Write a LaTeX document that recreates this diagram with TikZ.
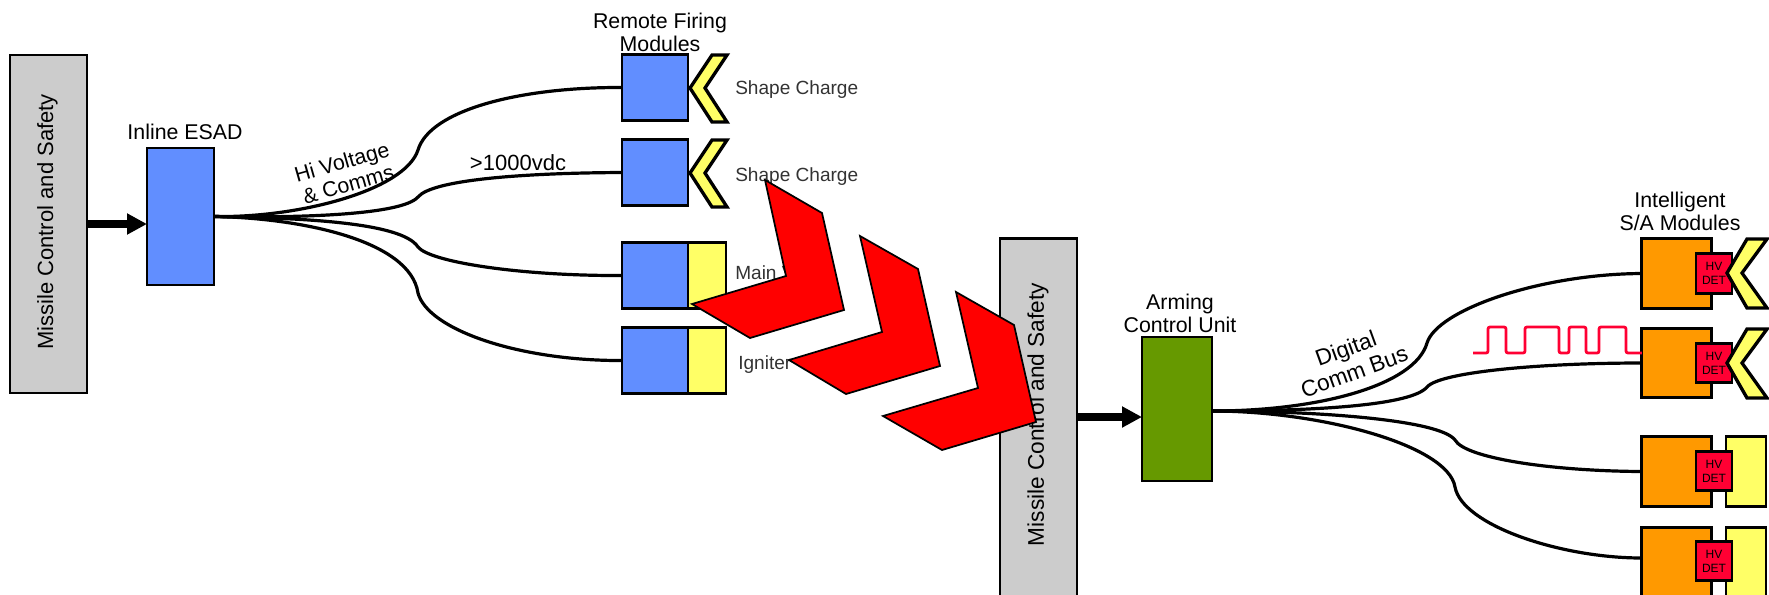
\documentclass[tikz,border=0pt]{standalone}
\usepackage{fontspec}
\setmainfont{Liberation Sans}
\usetikzlibrary{arrows.meta, positioning}
\definecolor{firingblue}{HTML}{618EFF}
\definecolor{armgreen}{HTML}{669900}
\definecolor{samorange}{HTML}{FF9900}
\definecolor{chargeyellow}{HTML}{FFFF66}
\definecolor{detred}{HTML}{FF0033}
\definecolor{panelgray}{HTML}{CCCCCC}

\begin{document}
\begin{tikzpicture}[
    x=0.75pt, y=-0.75pt,
    font=\fontsize{16}{17.3}\selectfont,
    box/.style={draw=black, line width=2.1pt, inner sep=0pt, outer sep=0pt},
    panel/.style={box, fill=panelgray, minimum width=57.75pt},
    firing/.style={box, fill=firingblue, minimum width=49.5pt, minimum height=49.5pt},
    booster/.style={box, fill=chargeyellow, minimum width=28.5pt, minimum height=49.5pt},
    sam/.style={box, fill=samorange, minimum width=52pt, minimum height=52pt},
    samcharge/.style={box, fill=chargeyellow, minimum width=30pt, minimum height=52pt},
    hvdet/.style={box, fill=detred, minimum width=27pt, minimum height=29.5pt, align=center,
        font=\fontsize{9}{10.5}\selectfont, text=black},
    charge/.style={draw=black, line width=2.5pt, fill=chargeyellow, line join=miter},
    redtip/.style={draw=black, line width=1.3pt, fill=red, line join=miter},
    wire/.style={draw=black, line width=2.4pt},
    feed/.style={draw=black, line width=5.5pt, -{Triangle[length=15pt, width=15pt]}},
    note/.style={font=\fontsize{14.3}{16}\selectfont, text=black!80, anchor=west, inner sep=0pt},
    title/.style={align=center, inner sep=0pt},
]
\clip (0,0) rectangle (1769,594);
\useasboundingbox (0,0) rectangle (1769,594);

% Left side: firing modules
\node[panel, minimum height=253.5pt] (ctrlA) at (48.5,224) {};
\node[rotate=90, inner sep=0pt, font=\fontsize{16.5}{18}\selectfont] (ctrlAtext) at (47.5,222) {Missile Control and Safety};
\node[box, fill=firingblue, minimum width=50.25pt, minimum height=102.75pt] (esad) at (180.5,216.5) {};
\node[title] (esadtext) at (185,132) {Inline ESAD};

\node[firing] (fireA) at (655,87.5) {};
\node[firing] (fireB) at (655,172.5) {};
\node[firing] (fireC) at (655,275.5) {};
\node[firing] (fireD) at (655,360.5) {};
\node[booster, right=0pt of fireC] (boostC) {};
\node[booster, right=0pt of fireD] (boostD) {};
\draw[charge] (690,88) -- (712,55) -- (727,55) -- (705,88) -- (727,122) -- (712,122) -- cycle;
\draw[charge] (690,173) -- (712,140) -- (727,140) -- (705,173) -- (727,207) -- (712,207) -- cycle;

\node[title] (firetitle) at (660,32) {Remote Firing\\Modules};
\node[note] (noteA) at (735,90) {Shape Charge};
\node[note] (noteB) at (735,177) {Shape Charge};
\node[note] (noteC) at (735,273) {Main V};
\node[note] (noteD) at (738,365) {Igniter};

\draw[feed] (ctrlA.east |- 0,224) -- (esad.west |- 0,224);
\draw[wire] (esad.east) .. controls (300,218) and (405,190) .. (418,150) .. controls (430,110) and (520,87) .. (fireA.west);
\draw[wire] (esad.east) .. controls (300,218) and (402,215) .. (418,197) .. controls (432,180) and (520,173) .. (fireB.west);
\draw[wire] (esad.east) .. controls (300,218) and (402,222) .. (418,247) .. controls (430,262) and (520,276) .. (fireC.west);
\draw[wire] (esad.east) .. controls (300,218) and (410,240) .. (418,293) .. controls (428,330) and (520,361) .. (fireD.west);
\node[title, rotate=16] (hvtext) at (345,173) {Hi Voltage\\\& Comms};
\node[title, font=\fontsize{16.5}{18}\selectfont] (kvtext) at (518,163) {>1000vdc};

% Right side: safe and arm modules
\node[panel, minimum height=280pt] (ctrlB) at (1038.5,425) {};
\node[rotate=90, inner sep=0pt, font=\fontsize{17}{18}\selectfont] (ctrlBtext) at (1038,414.5) {Missile Control and Safety};
\node[box, fill=armgreen, minimum width=52.5pt, minimum height=108pt] (acu) at (1177,409) {};
\node[title] (acutext) at (1180,313.5) {Arming\\Control Unit};

\node[sam] (samA) at (1676.5,273.5) {};
\node[sam] (samB) at (1676.5,363) {};
\node[sam] (samC) at (1676.5,471.5) {};
\node[sam] (samD) at (1676.5,562) {};
\node[samcharge] (chargeC) at (1746,471.5) {};
\node[samcharge] (chargeD) at (1746,562) {};
\node[hvdet] (detA) at (1714,273.5) {HV\\DET};
\node[hvdet] (detB) at (1714,363) {HV\\DET};
\node[hvdet] (detC) at (1714,471) {HV\\DET};
\node[hvdet] (detD) at (1714,561) {HV\\DET};
\draw[charge] (1727,273) -- (1747,239) -- (1767,239) -- (1742,273) -- (1767,308) -- (1747,308) -- cycle;
\draw[charge] (1727,363) -- (1747,329) -- (1767,329) -- (1742,363) -- (1767,398) -- (1747,398) -- cycle;

\node[title] (samtitle) at (1680,211) {Intelligent\\S/A Modules};

\draw[feed] (ctrlB.east |- 0,417) -- (acu.west |- 0,417);
\draw[wire] ([yshift=-1.5pt]acu.east) .. controls (1320,411) and (1415,385) .. (1427,343) .. controls (1437,310) and (1540,274) .. (samA.west);
\draw[wire] ([yshift=-1.5pt]acu.east) .. controls (1320,411) and (1412,405) .. (1427,387) .. controls (1440,372) and (1540,363) .. (samB.west);
\draw[wire] ([yshift=-1.5pt]acu.east) .. controls (1320,411) and (1440,420) .. (1455,440) .. controls (1465,458) and (1550,471) .. (samC.west);
\draw[wire] ([yshift=-1.5pt]acu.east) .. controls (1320,411) and (1448,445) .. (1455,487) .. controls (1462,525) and (1560,558) .. ([yshift=3pt]samD.west);
\node[title, rotate=20, font=\fontsize{17}{18.5}\selectfont] (bustext) at (1350,360) {Digital\\Comm Bus};
\draw[draw=detred, line width=2.1pt, rounded corners=1.5pt] (1473,353) -- (1488,353) -- (1488,327) -- (1506,327) -- (1506,353) -- (1525,353) -- (1525,327) -- (1559,327) -- (1559,353) -- (1569,353) -- (1569,327) -- (1586,327) -- (1586,353) -- (1599,353) -- (1599,327) -- (1626,327) -- (1626,353) -- (samB.west |- 0,353);

% Big arrows between the two sides
\draw[redtip] (765,180) -- (822,213) -- (844,310) -- (750,338) -- (692,304) -- (786,276) -- cycle;
\draw[redtip] (860,236) -- (918,269) -- (940,366) -- (846,394) -- (789,360) -- (882,332) -- cycle;
\draw[redtip] (956,292) -- (1014,325) -- (1036,422) -- (942,450) -- (883,416) -- (978,388) -- cycle;
\end{tikzpicture}
\end{document}
